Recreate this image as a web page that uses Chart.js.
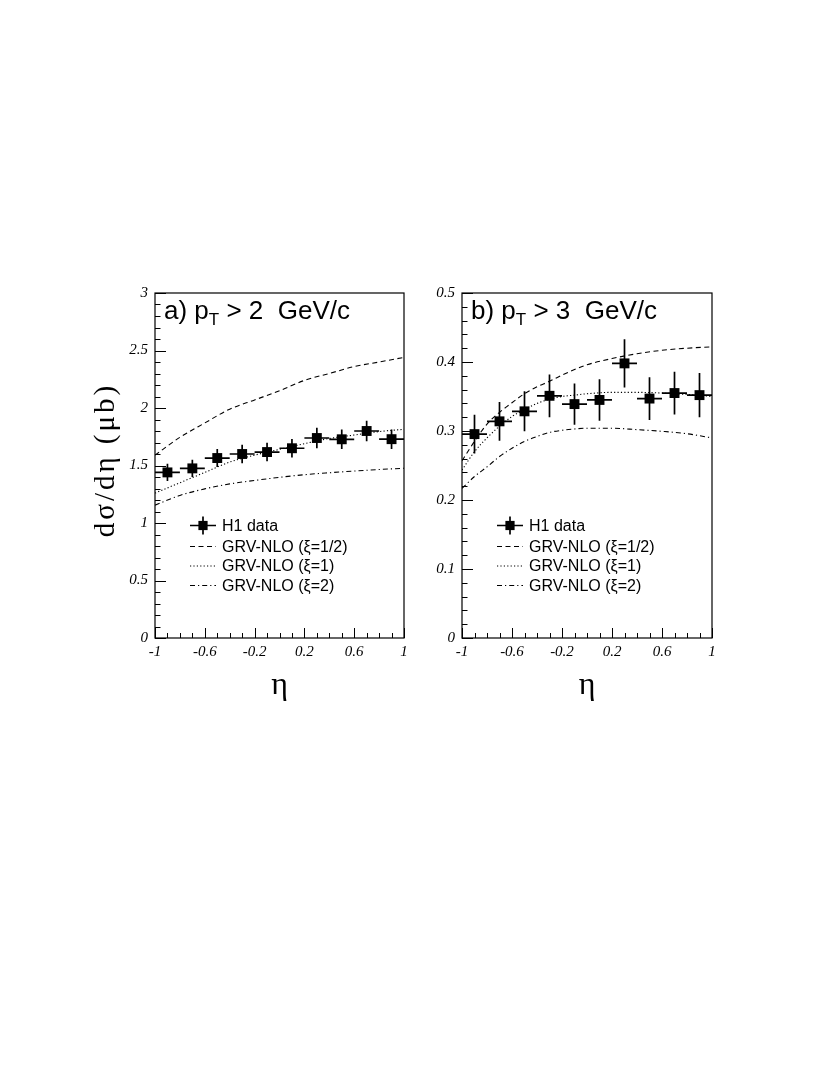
<!DOCTYPE html>
<html><head><meta charset="utf-8">
<script src="https://cdn.jsdelivr.net/npm/chart.js@4.4.1/dist/chart.umd.min.js"></script>
<style>
html,body{margin:0;padding:0;background:#fff;}
#wrap{position:relative;width:830px;height:1075px;background:#fff;}
canvas{position:absolute;left:0;top:0;}
</style></head><body>
<div id="wrap"><canvas id="ca" width="830" height="1075"></canvas><canvas id="cb" width="830" height="1075"></canvas></div>
<script>
// ---- data ----
const etaBins = [-0.9,-0.7,-0.5,-0.3,-0.1,0.1,0.3,0.5,0.7,0.9];
const binHalfWidth = 0.1;
const dataA = [1.44,1.475,1.565,1.60,1.617,1.65,1.739,1.728,1.80,1.729];
const errA  = [0.075,0.075,0.078,0.08,0.08,0.08,0.09,0.085,0.09,0.085];
const etaGridA = [-1,-0.8,-0.6,-0.4,-0.2,0,0.2,0.4,0.6,0.8,1];
const halfA = [1.59,1.745,1.87,1.99,2.07,2.15,2.24,2.30,2.36,2.40,2.44];
const oneA  = [1.26,1.35,1.44,1.53,1.59,1.64,1.69,1.735,1.765,1.795,1.815];
const twoA  = [1.155,1.24,1.297,1.34,1.37,1.397,1.42,1.437,1.452,1.465,1.476];
const dataB = [0.2955,0.314,0.3285,0.351,0.339,0.345,0.398,0.347,0.355,0.352];
const errB  = [0.028,0.028,0.029,0.031,0.030,0.030,0.035,0.031,0.031,0.032];
const etaGridB = [-1,-0.9,-0.8,-0.7,-0.6,-0.5,-0.4,-0.3,-0.2,-0.1,0,0.2,0.4,0.6,0.8,1];
const halfB = [0.257,0.285,0.31,0.327,0.341,0.354,0.364,0.372,0.381,0.389,0.396,0.405,0.412,0.417,0.42,0.422];
const oneB  = [0.2435,0.27,0.29,0.307,0.321,0.331,0.34,0.346,0.35,0.352,0.354,0.356,0.356,0.355,0.353,0.35];
const twoB  = [0.217,0.234,0.248,0.263,0.275,0.285,0.292,0.298,0.301,0.303,0.304,0.304,0.302,0.2995,0.296,0.29];
const xTicks = [-1,-0.6,-0.2,0.2,0.6,1];
const xTickLabels = ['-1','-0.6','-0.2','0.2','0.6','1'];
const yTicksA = [0,0.5,1,1.5,2,2.5,3];
const yTickLabelsA = ['0','0.5','1','1.5','2','2.5','3'];
const yTicksB = [0,0.1,0.2,0.3,0.4,0.5];
const yTickLabelsB = ['0','0.1','0.2','0.3','0.4','0.5'];
const seriesLabels = ['H1 data','GRV-NLO (ξ=1/2)','GRV-NLO (ξ=1)','GRV-NLO (ξ=2)'];
const titleA = ['a) p','T',' > 2  GeV/c'];
const titleB = ['b) p','T',' > 3  GeV/c'];
const yAxisTitle = 'dσ/dη (μb)';
const xAxisTitle = 'η';

// ---- styles ----
const DASHES = [[5,3.5],[1.2,2.2],[5,3,1.2,3]];
const CURVE_W = 1.1;
const SERIF = '"Liberation Serif","Times New Roman",serif';
const SANS = '"Liberation Sans",Arial,Helvetica,sans-serif';

const panels = {
  ca: {err: errA, yMinor: 0.1, yMajor: 0.5, title: titleA, yTitle: true},
  cb: {err: errB, yMinor: 0.02, yMajor: 0.1, title: titleB, yTitle: false}
};

const panelPlugin = {
  id: 'panelDeco',
  beforeDatasetsDraw(chart){
    const cfg = panels[chart.canvas.id];
    const ctx = chart.ctx, xs = chart.scales.x, ys = chart.scales.y;
    const ds = chart.data.datasets[0];
    ctx.save();
    ctx.strokeStyle = '#000'; ctx.lineWidth = 1.7; ctx.setLineDash([]);
    ds.data.forEach((p,i)=>{
      const e = cfg.err[i];
      const px = xs.getPixelForValue(p.x), py = ys.getPixelForValue(p.y);
      ctx.beginPath();
      ctx.moveTo(xs.getPixelForValue(p.x-binHalfWidth), py);
      ctx.lineTo(xs.getPixelForValue(p.x+binHalfWidth), py);
      ctx.moveTo(px, ys.getPixelForValue(p.y-e));
      ctx.lineTo(px, ys.getPixelForValue(p.y+e));
      ctx.stroke();
    });
    ctx.restore();
  },
  afterDraw(chart){
    const cfg = panels[chart.canvas.id];
    const ctx = chart.ctx, xs = chart.scales.x, ys = chart.scales.y;
    const a = chart.chartArea;
    ctx.save();
    ctx.strokeStyle = '#000'; ctx.fillStyle = '#000'; ctx.setLineDash([]);
    // frame
    ctx.lineWidth = 1.2;
    ctx.strokeRect(a.left, a.top, a.right-a.left, a.bottom-a.top);
    // inward ticks
    ctx.lineWidth = 1;
    ctx.beginPath();
    const nY = Math.round((ys.max-ys.min)/cfg.yMinor);
    for (let k=0;k<=nY;k++){
      const v = ys.min + k*cfg.yMinor;
      const r = v/cfg.yMajor;
      const major = Math.abs(r-Math.round(r))<1e-6;
      const py = Math.round(ys.getPixelForValue(v))+0.5;
      ctx.moveTo(a.left, py); ctx.lineTo(a.left+(major?11:5.5), py);
    }
    const nX = Math.round((xs.max-xs.min)/0.1);
    for (let k=0;k<=nX;k++){
      const v = xs.min + k*0.1;
      const r = (v+1)/0.4;
      const major = Math.abs(r-Math.round(r))<1e-6;
      const px = Math.round(xs.getPixelForValue(v))+0.5;
      ctx.moveTo(px, a.bottom); ctx.lineTo(px, a.bottom-(major?10:5));
    }
    ctx.stroke();
    // title
    let tx = a.left+9, tb = a.top+26;
    ctx.textBaseline = 'alphabetic'; ctx.textAlign = 'left';
    ctx.font = '26px '+SANS;
    ctx.fillText(cfg.title[0], tx, tb); tx += ctx.measureText(cfg.title[0]).width;
    ctx.font = '17px '+SANS;
    ctx.fillText(cfg.title[1], tx, tb+6); tx += ctx.measureText(cfg.title[1]).width;
    ctx.font = '26px '+SANS;
    ctx.fillText(cfg.title[2], tx, tb);
    // legend
    const rows = [232.5, 253.5, 273, 292.5];
    const sx0 = a.left+35, sx1 = a.left+61, txl = a.left+67;
    ctx.font = '16px '+SANS; ctx.textBaseline = 'middle';
    rows.forEach((ry,i)=>{
      const y = a.top+ry;
      ctx.save();
      if (i===0){
        ctx.lineWidth = 1.7;
        ctx.beginPath(); ctx.moveTo(sx0,y); ctx.lineTo(sx1,y);
        const cx=(sx0+sx1)/2; ctx.moveTo(cx,y-9); ctx.lineTo(cx,y+9); ctx.stroke();
        ctx.fillRect(cx-4.6,y-4.6,9.2,9.2);
      } else {
        ctx.lineWidth = CURVE_W; ctx.setLineDash(DASHES[i-1]);
        ctx.beginPath(); ctx.moveTo(sx0,y); ctx.lineTo(sx1,y); ctx.stroke();
      }
      ctx.restore();
      ctx.fillText(seriesLabels[i], txl, y+1);
    });
    // x axis title
    ctx.font = '32px '+SERIF; ctx.textAlign='center'; ctx.textBaseline='alphabetic';
    ctx.fillText(xAxisTitle, (a.left+a.right)/2, a.bottom+56);
    // y axis title
    if (cfg.yTitle){
      ctx.translate(114, 460); ctx.rotate(-Math.PI/2);
      ctx.font = '29px '+SERIF; ctx.textAlign='center'; ctx.textBaseline='alphabetic';
      if ('letterSpacing' in ctx) ctx.letterSpacing = '3px';
      ctx.fillText(yAxisTitle, 0, 0);
    }
    ctx.restore();
  }
};

function pts(xsArr, ysArr){ return xsArr.map((x,i)=>({x:x, y:ysArr[i]})); }

function makeChart(id, dataV, grid, half, one, two, yMax, yTicks, yLabels, padL, padR){
  const curve = (vals, d) => ({type:'scatter', data: pts(grid, vals), showLine:true, pointRadius:0,
    borderColor:'#000', borderWidth:CURVE_W, borderDash:d, fill:false, tension:0.4, cubicInterpolationMode:'monotone'});
  return new Chart(document.getElementById(id), {
    type:'scatter',
    data:{datasets:[
      {label:seriesLabels[0], data: pts(etaBins, dataV), pointStyle:'rect', pointRadius:7, pointHoverRadius:7,
       backgroundColor:'#000', borderColor:'#000', borderWidth:0, showLine:false},
      Object.assign(curve(half, DASHES[0]), {label:seriesLabels[1]}),
      Object.assign(curve(one, DASHES[1]), {label:seriesLabels[2]}),
      Object.assign(curve(two, DASHES[2]), {label:seriesLabels[3]})
    ]},
    options:{
      responsive:false, animation:false, devicePixelRatio:1,
      layout:{padding:{left:padL, right:padR, top:293, bottom:407}},
      plugins:{legend:{display:false}, tooltip:{enabled:false}, title:{display:false}},
      scales:{
        x:{type:'linear', min:-1, max:1, grid:{display:false, drawTicks:false, tickLength:0}, border:{display:false},
           afterFit(s){ s.height = 30; },
           afterBuildTicks(s){ s.ticks = xTicks.map(v=>({value:v})); },
           ticks:{autoSkip:false, maxRotation:0, padding:5, color:'#000',
             font:{family:SERIF, style:'italic', size:15},
             callback:(v,i)=>xTickLabels[i]}},
        y:{type:'linear', min:0, max:yMax, grid:{display:false, drawTicks:false, tickLength:0}, border:{display:false},
           afterFit(s){ s.width = 50; },
           afterBuildTicks(s){ s.ticks = yTicks.map(v=>({value:v})); },
           ticks:{autoSkip:false, padding:7, color:'#000',
             font:{family:SERIF, style:'italic', size:15},
             callback:(v,i)=>yLabels[i]}}
      }
    },
    plugins:[panelPlugin]
  });
}

makeChart('ca', dataA, etaGridA, halfA, oneA, twoA, 3, yTicksA, yTickLabelsA, 105, 426);
makeChart('cb', dataB, etaGridB, halfB, oneB, twoB, 0.5, yTicksB, yTickLabelsB, 412, 118);
</script>
</body></html>
